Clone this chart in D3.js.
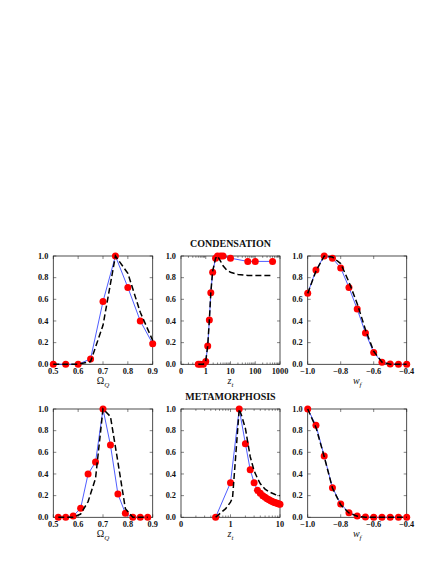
<!DOCTYPE html>
<html>
<head>
<meta charset="utf-8">
<script src="https://cdn.jsdelivr.net/npm/d3@7"></script>
<style>
  body { margin: 0; background: #fff; }
  svg { display: block; }
  .tick-label { font-family: "Liberation Serif", "Times New Roman", serif; font-weight: bold; font-size: 8.3px; fill: #111; }
  .title { font-family: "Liberation Serif", "Times New Roman", serif; font-weight: bold; font-size: 10px; fill: #111; }
  .axis-title { font-family: "Liberation Serif", "Times New Roman", serif; font-size: 10px; fill: #111; }
</style>
</head>
<body>
<script>
// ---- data ----
// condensation, Omega_Q
var omegaQCond = [0.5, 0.55, 0.6, 0.65, 0.7, 0.75, 0.8, 0.85, 0.9];
var omegaQCondSim = [0, 0, 0, 0.05, 0.58, 1.0, 0.71, 0.40, 0.19];
var omegaQCondFit = [0, 0, 0, 0.025, 0.36, 1.0, 0.84, 0.48, 0.22];

// condensation, z_t (log axis)
var ztCond = [0.5, 0.6, 0.8, 1.0, 1.2, 1.4, 1.6, 1.9, 2.5, 3, 4, 5, 10, 50, 100, 500];
var ztCondSim = [0, 0, 0, 0.025, 0.17, 0.41, 0.66, 0.85, 0.98, 1.0, 1.0, 1.0, 0.98, 0.95, 0.95, 0.95];
var ztCondFitX = [0.5, 0.8, 1.0, 1.2, 1.4, 1.6, 1.9, 2.5, 3, 4, 5, 7, 10, 20, 50, 100, 500];
var ztCondFit = [0, 0, 0.03, 0.17, 0.41, 0.66, 0.86, 0.98, 1.0, 0.95, 0.91, 0.87, 0.85, 0.83, 0.82, 0.82, 0.82];

// condensation, w_f
var wfCond = [-1.0, -0.95, -0.9, -0.85, -0.8, -0.75, -0.7, -0.65, -0.6, -0.55, -0.5, -0.45, -0.4];
var wfCondSim = [0.655, 0.87, 1.0, 0.98, 0.89, 0.71, 0.51, 0.29, 0.11, 0.02, 0.003, 0, 0];
var wfCondFit = [0.655, 0.86, 1.0, 0.99, 0.93, 0.76, 0.56, 0.32, 0.12, 0.02, 0, 0, 0];

// metamorphosis, Omega_Q
var omegaQMeta = [0.52, 0.55, 0.58, 0.61, 0.64, 0.67, 0.70, 0.73, 0.76, 0.79, 0.82, 0.85, 0.88];
var omegaQMetaSim = [0, 0, 0.012, 0.083, 0.40, 0.51, 1.0, 0.667, 0.215, 0.037, 0, 0, 0];
var omegaQMetaFit = [0, 0, 0, 0.03, 0.145, 0.36, 1.0, 0.93, 0.51, 0.08, 0, 0, 0];

// metamorphosis, z_t (log axis)
var ztMeta = [0.5, 1.0, 1.5, 2.0, 2.5, 3.0, 3.5, 4.0, 4.5, 5, 5.5, 6, 6.5, 7, 7.5, 8, 8.5, 9, 9.5, 10];
var ztMetaSim = [0, 0.32, 1.0, 0.68, 0.44, 0.32, 0.25, 0.222, 0.2, 0.185, 0.172, 0.162, 0.153, 0.146, 0.14, 0.135, 0.131, 0.127, 0.123, 0.12];
var ztMetaFitX = [0.5, 0.8, 1.0, 1.1, 1.5, 1.7, 2.0, 2.5, 3, 3.5, 4, 5, 6, 8, 10];
var ztMetaFit = [0, 0.08, 0.14, 0.18, 1.0, 0.93, 0.82, 0.56, 0.43, 0.36, 0.31, 0.26, 0.235, 0.21, 0.2];

// metamorphosis, w_f
var wfMeta = [-1.0, -0.95, -0.9, -0.85, -0.8, -0.75, -0.7, -0.65, -0.6, -0.55, -0.5, -0.45, -0.4];
var wfMetaSim = [1.0, 0.85, 0.566, 0.274, 0.123, 0.043, 0.012, 0.003, 0, 0, 0, 0, 0];
var wfMetaFit = [1.0, 0.83, 0.56, 0.27, 0.115, 0.04, 0.01, 0, 0, 0, 0, 0, 0];

var yTicks = [0, 0.2, 0.4, 0.6, 0.8, 1.0];
var omegaTicks = [0.5, 0.6, 0.7, 0.8, 0.9];
var wfTicks = [-1.0, -0.8, -0.6, -0.4];
var ztTicksCond = [0.1, 1, 10, 100, 1000];
var ztTicksMeta = [0.1, 1, 10];
var ztTickText = {0.1: "0", 1: "1", 10: "10", 100: "100", 1000: "1000"};

var rowTitles = ["CONDENSATION", "METAMORPHOSIS"];

// ---- layout ----
var width = 436, height = 564;
var cols = [[53.3, 152.7], [181, 280], [307.7, 406.7]];
var rows = [[256, 364.3], [409, 517.3]];

var svg = d3.select("body").append("svg")
    .attr("width", width)
    .attr("height", height);

svg.append("rect").attr("width", width).attr("height", height).attr("fill", "#fff");

var f1 = d3.format(".1f");

function panel(col, row, opt) {
    var x0 = cols[col][0], x1 = cols[col][1];
    var y0 = rows[row][0], y1 = rows[row][1];

    var x = (opt.log ? d3.scaleLog() : d3.scaleLinear())
        .domain(opt.domain).range([x0, x1]);
    var y = d3.scaleLinear().domain([0, 1]).range([y1, y0]);

    var g = svg.append("g");

    // frame ticks (mirrored, pointing inward)
    var ticks = g.append("g").attr("stroke", "#333").attr("stroke-width", 0.6);
    yTicks.forEach(function(v) {
        ticks.append("line").attr("x1", x0).attr("x2", x0 + 3).attr("y1", y(v)).attr("y2", y(v));
        ticks.append("line").attr("x1", x1).attr("x2", x1 - 3).attr("y1", y(v)).attr("y2", y(v));
    });
    var xt = opt.ticks.slice();
    if (opt.log) {
        // minor ticks 2..9 in each decade
        var d = opt.domain;
        for (var p = d[0]; p < d[1]; p *= 10) {
            for (var k = 2; k < 10; k++) xt.push(p * k);
        }
    }
    xt.forEach(function(v) {
        var isMajor = opt.ticks.indexOf(v) >= 0;
        var len = isMajor ? 3 : 1.8;
        ticks.append("line").attr("x1", x(v)).attr("x2", x(v)).attr("y1", y1).attr("y2", y1 - len);
        ticks.append("line").attr("x1", x(v)).attr("x2", x(v)).attr("y1", y0).attr("y2", y0 + len);
    });

    g.append("rect")
        .attr("x", x0).attr("y", y0)
        .attr("width", x1 - x0).attr("height", y1 - y0)
        .attr("fill", "none").attr("stroke", "#222").attr("stroke-width", 0.8);

    // tick labels
    g.selectAll(".ylab").data(yTicks).enter().append("text")
        .attr("class", "tick-label")
        .attr("x", x0 - 5).attr("y", function(v) { return y(v) + 2.8; })
        .attr("text-anchor", "end")
        .text(f1);

    g.selectAll(".xlab").data(opt.ticks).enter().append("text")
        .attr("class", "tick-label")
        .attr("x", function(v) { return x(v); }).attr("y", y1 + 9.5)
        .attr("text-anchor", "middle")
        .text(function(v) { return opt.log ? ztTickText[v] : f1(v); });

    // axis title
    var t = g.append("text").attr("class", "axis-title")
        .attr("x", (x0 + x1) / 2).attr("y", y1 + 20)
        .attr("text-anchor", "middle");
    t.append("tspan").attr("font-style", opt.mainItalic ? "italic" : "normal").text(opt.label[0]);
    t.append("tspan").attr("font-style", "italic").attr("font-size", "7px")
        .attr("dy", 2.5).text(opt.label[1]);

    // curves
    var line = d3.line().x(function(d) { return x(d[0]); }).y(function(d) { return y(d[1]); });
    var sim = opt.xs.map(function(v, i) { return [v, opt.sim[i]]; });
    var fit = opt.fitX.map(function(v, i) { return [v, opt.fit[i]]; });

    g.append("path").datum(sim)
        .attr("d", line)
        .attr("fill", "none").attr("stroke", "#2233ff").attr("stroke-width", 0.8);

    g.selectAll(".dot").data(sim).enter().append("circle")
        .attr("cx", function(d) { return x(d[0]); })
        .attr("cy", function(d) { return y(d[1]); })
        .attr("r", 3.5)
        .attr("fill", "#ff0000");

    g.append("path").datum(fit)
        .attr("d", line)
        .attr("fill", "none").attr("stroke", "#000").attr("stroke-width", 1.5)
        .attr("stroke-dasharray", "6,3");
}

var omegaLabel = ["\u03A9", "Q"], ztLabel = ["z", "t"], wfLabel = ["w", "f"];

panel(0, 0, { domain: [0.5, 0.9], ticks: omegaTicks, label: omegaLabel, mainItalic: false,
    xs: omegaQCond, sim: omegaQCondSim, fitX: omegaQCond, fit: omegaQCondFit });
panel(1, 0, { log: true, domain: [0.1, 1000], ticks: ztTicksCond, label: ztLabel, mainItalic: true,
    xs: ztCond, sim: ztCondSim, fitX: ztCondFitX, fit: ztCondFit });
panel(2, 0, { domain: [-1.0, -0.4], ticks: wfTicks, label: wfLabel, mainItalic: true,
    xs: wfCond, sim: wfCondSim, fitX: wfCond, fit: wfCondFit });

panel(0, 1, { domain: [0.5, 0.9], ticks: omegaTicks, label: omegaLabel, mainItalic: false,
    xs: omegaQMeta, sim: omegaQMetaSim, fitX: omegaQMeta, fit: omegaQMetaFit });
panel(1, 1, { log: true, domain: [0.1, 10], ticks: ztTicksMeta, label: ztLabel, mainItalic: true,
    xs: ztMeta, sim: ztMetaSim, fitX: ztMetaFitX, fit: ztMetaFit });
panel(2, 1, { domain: [-1.0, -0.4], ticks: wfTicks, label: wfLabel, mainItalic: true,
    xs: wfMeta, sim: wfMetaSim, fitX: wfMeta, fit: wfMetaFit });

svg.selectAll(".title").data(rowTitles).enter().append("text")
    .attr("class", "title")
    .attr("x", (cols[1][0] + cols[1][1]) / 2)
    .attr("y", function(d, i) { return rows[i][0] - 9; })
    .attr("text-anchor", "middle")
    .text(function(d) { return d; });
</script>
</body>
</html>
